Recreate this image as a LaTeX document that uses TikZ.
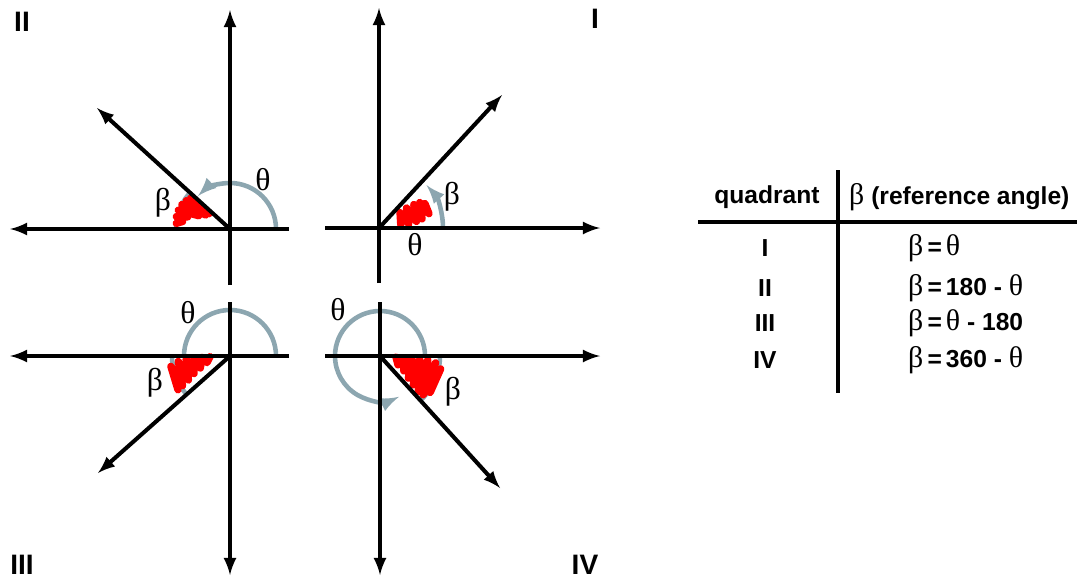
\documentclass[tikz,border=0pt]{standalone}
\usepackage{fontspec}
\setmainfont{Liberation Sans}
\newfontfamily\grk{Liberation Serif}
\usetikzlibrary{arrows}
\definecolor{arcgrey}{RGB}{140,166,176}
\definecolor{scribred}{RGB}{255,0,0}

\tikzset{
  vec/.style={line width=2.3pt,-latex},
  garc/.style={arcgrey,line width=2.6pt},
  scrib/.style={scribred,line width=4.2pt,line cap=round,line join=round},
  qlabel/.style={font=\fontsize{16}{18}\selectfont\bfseries},
  glabel/.style={font=\fontsize{18}{20}\selectfont\grk},
  tlabel/.style={font=\fontsize{14}{16}\selectfont\bfseries},
}
\newcommand{\gb}{{\fontsize{17}{20}\selectfont\grk\mdseries β}}
\newcommand{\gt}{{\fontsize{17}{20}\selectfont\grk\mdseries θ}}

\begin{document}
\begin{tikzpicture}[x=0.02cm,y=0.02cm]
\useasboundingbox (0,0) rectangle (1077,-578);

% quadrant II
\begin{scope}[shift={(230,-229)}]
\coordinate (o2) at (0,0);
\coordinate (t2) at (0,219); \coordinate (b2) at (0,-56);
\coordinate (l2) at (-220,0); \coordinate (r2) at (59,0);
\coordinate (v2) at (-133,121);
\draw[garc,-latex] (46,0) arc[start angle=0,end angle=134,radius=46];
\draw[garc] (140:54) arc[start angle=140,end angle=180,radius=54];
\draw[scrib] (142:50) -- (144:26) -- (147:52) -- (150:28) -- (153:54) -- (157:34) -- (160:55) -- (164:44) -- (167:55) -- (171:48) -- (174:54);
\draw[vec] (b2) -- (t2);
\draw[vec] (r2) -- (l2);
\draw[vec] (o2) -- (v2);
\node[glabel] (th2) at (33,49) {θ};
\node[glabel] (be2) at (-67,26) {β};
\end{scope}

% quadrant I
\begin{scope}[shift={(379,-228)}]
\coordinate (o1) at (0,0);
\coordinate (t1) at (0,220); \coordinate (b1) at (0,-55);
\coordinate (l1) at (-54,0); \coordinate (r1) at (221,0);
\coordinate (v1) at (123,133);
\draw[garc,-latex] (64,0) arc[start angle=0,end angle=42,radius=64];
\draw[scrib] (8:22) -- (36:26) -- (8:30) -- (36:34) -- (10:38) -- (34:42) -- (12:44) -- (32:48) -- (16:52) -- (28:52);
\draw[vec] (l1) -- (r1);
\draw[vec] (b1) -- (t1);
\draw[vec] (o1) -- (v1);
\node[glabel] (th1) at (36,-17) {θ};
\node[glabel] (be1) at (73,31) {β};
\end{scope}

% quadrant III
\begin{scope}[shift={(230,-356)}]
\coordinate (o3) at (0,0);
\coordinate (t3) at (0,54); \coordinate (b3) at (0,-219);
\coordinate (l3) at (-220,0); \coordinate (r3) at (59,0);
\coordinate (v3) at (-132,-117);
\draw[garc] (46,0) arc[start angle=0,end angle=180,radius=46];
\draw[garc] (180:58) arc[start angle=180,end angle=222,radius=58];
\draw[scrib] (182:20) -- (196:24) -- (183:28) -- (202:32) -- (183:36) -- (206:40) -- (184:44) -- (210:48) -- (186:52) -- (212:56) -- (190:60) -- (213:62);
\draw[vec] (r3) -- (l3);
\draw[vec] (t3) -- (b3);
\draw[vec] (o3) -- (v3);
\node[glabel] (th3) at (-42,43) {θ};
\node[glabel] (be3) at (-75,-27) {β};
\end{scope}

% quadrant IV
\begin{scope}[shift={(380,-356)}]
\coordinate (o4) at (0,0);
\coordinate (t4) at (0,54); \coordinate (b4) at (0,-219);
\coordinate (l4) at (-55,0); \coordinate (r4) at (220,0);
\coordinate (v4) at (120,-132);
\draw[garc,-latex] (45,0) arc[start angle=0,end angle=295,radius=45];
\draw[garc] (-47:60) arc[start angle=-47,end angle=0,radius=60];
\draw[scrib] (-4:16) -- (-26:20) -- (-4:24) -- (-32:28) -- (-4:32) -- (-38:36) -- (-5:40) -- (-41:44) -- (-5:48) -- (-43:52) -- (-7:56) -- (-42:58) -- (-12:62) -- (-36:62);
\draw[vec] (l4) -- (r4);
\draw[vec] (t4) -- (b4);
\draw[vec] (o4) -- (v4);
\node[glabel] (th4) at (-42,46) {θ};
\node[glabel] (be4) at (73,-36) {β};
\end{scope}

% quadrant names
\node[qlabel] (q2) at (22,-22) {II};
\node[qlabel] (q1) at (595,-19) {I};
\node[qlabel] (q3) at (22,-565) {III};
\node[qlabel] (q4) at (585,-565) {IV};

% table
\coordinate (vtop) at (838,-170);
\coordinate (vbot) at (838,-393);
\coordinate (hl) at (698,-222);
\coordinate (hr) at (1077,-222);
\draw[line width=2.3pt] (vtop) -- (vbot);
\draw[line width=2.3pt] (hl) -- (hr);
\node[tlabel] (hq) at (767,-197) {quadrant};
\node[tlabel,anchor=west] (hb) at (843,-197) {\gb\ (reference angle)};
\node[tlabel] (n1) at (765,-248) {I};
\node[tlabel] (n2) at (765,-288) {II};
\node[tlabel] (n3) at (765,-323) {III};
\node[tlabel] (n4) at (765,-360) {IV};
\node[tlabel,anchor=west] (f1) at (902,-248) {\gb\,=\,\gt};
\node[tlabel,anchor=west] (f2) at (902,-288) {\gb\,=\,180 - \gt};
\node[tlabel,anchor=west] (f3) at (902,-323) {\gb\,=\,\gt\ - 180};
\node[tlabel,anchor=west] (f4) at (902,-360) {\gb\,=\,360 - \gt};
\end{tikzpicture}
\end{document}
